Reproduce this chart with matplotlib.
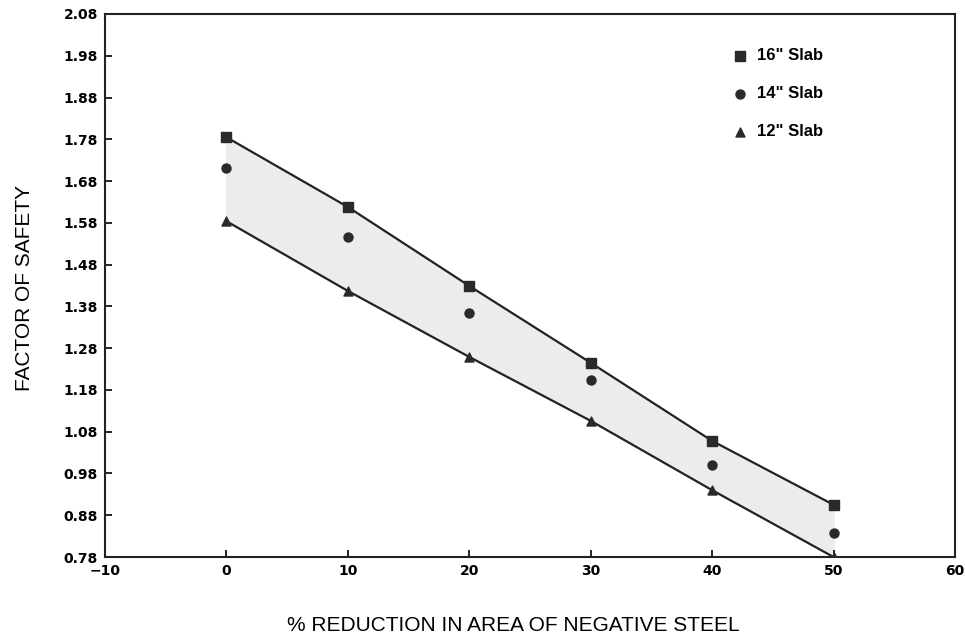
import matplotlib.pyplot as plt

# Data
reduction = [0, 10, 20, 30, 40, 50]
slab16 = [1.785, 1.618, 1.429, 1.245, 1.058, 0.905]
slab14 = [1.711, 1.546, 1.364, 1.204, 1.000, 0.838]
slab12 = [1.584, 1.417, 1.259, 1.106, 0.940, 0.780]
xticks = [-10, 0, 10, 20, 30, 40, 50, 60]
yticks = [0.78, 0.88, 0.98, 1.08, 1.18, 1.28, 1.38, 1.48, 1.58, 1.68, 1.78, 1.88, 1.98, 2.08]

plt.rcParams['font.family'] = ['Liberation Sans', 'DejaVu Sans']

fig = plt.figure(figsize=(9.65, 6.36), dpi=100)
ax = fig.add_axes([0.1088, 0.1242, 0.8808, 0.8538])

ax.fill_between(reduction, slab12, slab16, color='#ececea', zorder=1)
ax.plot(reduction, slab16, color='#222222', lw=1.6, zorder=2)
ax.plot(reduction, slab12, color='#222222', lw=1.6, zorder=2)

ax.scatter(reduction, slab16, marker='s', s=42, color='#2a2a2a', zorder=3, label='16" Slab')
ax.scatter(reduction, slab14, marker='o', s=42, color='#2a2a2a', zorder=3, label='14" Slab')
ax.scatter(reduction, slab12, marker='^', s=42, color='#2a2a2a', zorder=3, label='12" Slab')

ax.set_xlim(-10, 60)
ax.set_ylim(0.78, 2.08)
ax.set_xticks(xticks)
ax.set_yticks(yticks)
ax.set_xticklabels(['\u221210'] + [str(t) for t in xticks[1:]])
ax.set_yticklabels([f'{t:.2f}' for t in yticks])
ax.tick_params(direction='in', length=5, width=1.2, pad=5)
for lbl in ax.get_xticklabels() + ax.get_yticklabels():
    lbl.set_family('DejaVu Sans')
    lbl.set_fontweight('bold')
    lbl.set_fontsize(10)

for sp in ax.spines.values():
    sp.set_linewidth(1.5)
    sp.set_color('#222222')

fig.text(0.532, 0.016, '% REDUCTION IN AREA OF NEGATIVE STEEL', ha='center', va='center', fontsize=15)
fig.text(0.025, 0.547, 'FACTOR OF SAFETY', rotation=90, ha='center', va='center', fontsize=15)

leg = ax.legend(loc='upper right', bbox_to_anchor=(0.862, 0.965), frameon=False,
                prop={'weight': 'bold', 'size': 12}, labelspacing=1.38,
                handlelength=1.0, handletextpad=0.5, scatterpoints=1)

fig.savefig('out.png', dpi=100)
